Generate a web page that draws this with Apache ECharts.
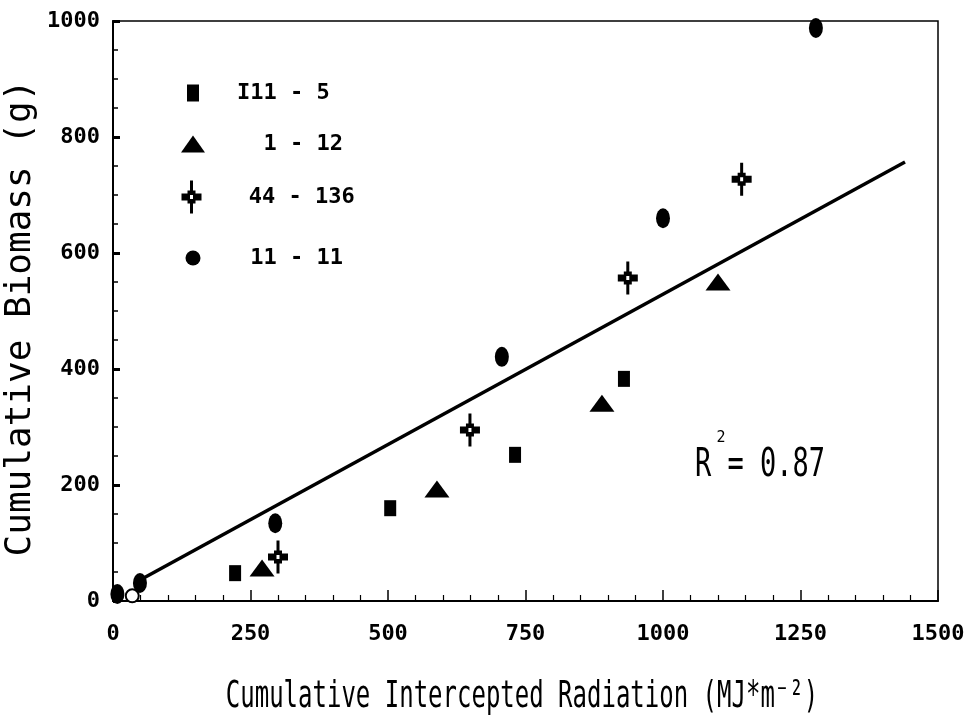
<!DOCTYPE html>
<html>
<head>
<meta charset="utf-8">
<script src="https://cdn.jsdelivr.net/npm/echarts@6/dist/echarts.min.js"></script>
<style>
  html, body { margin: 0; padding: 0; background: #fff; }
  #eChart { width: 975px; height: 724px; }
</style>
</head>
<body>
<div id="eChart"></div>
<script>
// values
const seriesNames = ["I11 - 5", "1 - 12", "44 - 136", "11 - 11"];

const sqX = [222, 504, 731, 929];
const sqY = [48, 160, 252, 383];

const triX = [271, 589, 889, 1100];
const triY = [57, 193, 341, 550];

const crossX = [300, 649, 936, 1143];
const crossY = [76, 295, 557, 727];

const circX = [8, 49, 295, 707, 1000, 1278];
const circY = [12, 31, 134, 421, 660, 988];

const openX = [35];
const openY = [9];

const fitX = [45, 1440];
const fitY = [34, 757];

const xTicks = [0, 250, 500, 750, 1000, 1250, 1500];
const yTicks = [0, 200, 400, 600, 800, 1000];

const mono = "'DejaVu Sans Mono', monospace";
const crossPath =
  "path://M8.5,0L11.5,0L11.5,10L14,10L14,13L20,13L20,20L14,20L14,23L11.5,23L11.5,33L8.5,33L8.5,23L6,23L6,20L0,20L0,13L6,13L6,10L8.5,10Z" +
  "M8.5,14.5L8.5,18.5L11.5,18.5L11.5,14.5Z";

const zip = (xs, ys) => xs.map((x, i) => [x, ys[i]]);

// legend rows: icon size and vertical centre
const legendRows = [
  { name: seriesNames[0], w: 12, h: 17, cy: 92 },
  { name: seriesNames[1], w: 24, h: 17, cy: 143 },
  { name: seriesNames[2], w: 23, h: 33, cy: 197 },
  { name: seriesNames[3], w: 15, h: 20, cy: 257 },
];

const legends = legendRows.map((r) => {
  const left = 193 - r.w / 2;
  const pad = 237 - (left + r.w + 5);
  const txt = { fontFamily: mono, fontWeight: "bold", fontSize: 22, color: "#000", lineHeight: 20 };
  return {
    data: [r.name],
    left: left,
    top: r.cy - Math.max(r.h, 20) / 2,
    itemWidth: r.w,
    itemHeight: r.h,
    padding: 0,
    selectedMode: false,
    formatter: (name) => {
      const parts = name.split(" - ");
      return "{s| }{t|" + parts[0].padStart(3, " ") + " - " + parts[1] + "}";
    },
    textStyle: {
      rich: {
        s: { ...txt, width: pad },
        t: { ...txt },
      },
    },
  };
});

const chart = echarts.init(document.getElementById("eChart"));

const option = {
  animation: false,
  backgroundColor: "#fff",
  grid: {
    left: 113,
    right: 37,
    top: 21,
    bottom: 123,
    show: true,
    borderColor: "#000",
    borderWidth: 1.5,
    backgroundColor: "transparent",
  },
  legend: legends,
  xAxis: {
    type: "value",
    min: xTicks[0],
    max: xTicks[xTicks.length - 1],
    interval: 250,
    axisLine: { show: true, lineStyle: { color: "#000", width: 2 } },
    axisTick: { show: true, inside: true, length: 11, lineStyle: { color: "#000", width: 1.5 } },
    minorTick: { show: true, splitNumber: 5, length: 6, lineStyle: { color: "#000", width: 1.2 } },
    splitLine: { show: false },
    axisLabel: {
      margin: 22,
      fontFamily: mono,
      fontWeight: "bold",
      fontSize: 22,
      color: "#000",
      formatter: (v) => (xTicks.includes(v) ? String(v) : ""),
    },
  },
  yAxis: {
    type: "value",
    min: yTicks[0],
    max: yTicks[yTicks.length - 1],
    interval: 200,
    axisLine: { show: true, lineStyle: { color: "#000", width: 2 } },
    axisTick: { show: true, inside: true, length: 7, lineStyle: { color: "#000", width: 3 } },
    minorTick: { show: true, splitNumber: 4, length: 5, lineStyle: { color: "#000", width: 1.5 } },
    splitLine: { show: false },
    axisLabel: {
      margin: 13,
      fontFamily: mono,
      fontWeight: "bold",
      fontSize: 22,
      color: "#000",
      formatter: (v) => String(v),
    },
  },
  series: [
    {
      name: "fit",
      type: "line",
      data: zip(fitX, fitY),
      symbol: "none",
      lineStyle: { color: "#000", width: 3.5 },
      z: 1,
    },
    {
      name: seriesNames[0],
      type: "scatter",
      data: zip(sqX, sqY),
      symbol: "rect",
      symbolSize: [12, 16],
      itemStyle: { color: "#000", opacity: 1 },
      z: 3,
    },
    {
      name: seriesNames[1],
      type: "scatter",
      data: zip(triX, triY),
      symbol: "triangle",
      symbolSize: [25, 17],
      itemStyle: { color: "#000", opacity: 1 },
      z: 3,
    },
    {
      name: seriesNames[2],
      type: "scatter",
      data: zip(crossX, crossY),
      symbol: crossPath,
      symbolSize: [20, 33],
      itemStyle: { color: "#000", opacity: 1 },
      z: 3,
    },
    {
      name: "open",
      type: "scatter",
      data: zip(openX, openY),
      symbol: "circle",
      symbolSize: 13,
      itemStyle: { color: "#fff", borderColor: "#000", borderWidth: 2, opacity: 1 },
      z: 2,
    },
    {
      name: seriesNames[3],
      type: "scatter",
      data: zip(circX, circY),
      symbol: "circle",
      symbolSize: [14, 20],
      itemStyle: { color: "#000", opacity: 1 },
      z: 3,
    },
  ],
  graphic: [
    {
      // y axis title
      type: "text",
      x: 21,
      y: 318,
      rotation: Math.PI / 2,
      style: {
        text: "Cumulative Biomass (g)",
        font: "36px " + mono,
        fill: "#000",
        textAlign: "center",
        textVerticalAlign: "middle",
      },
    },
    {
      // x axis title
      type: "text",
      x: 522,
      y: 697,
      scaleY: 1.55,
      style: {
        text: "Cumulative Intercepted Radiation (MJ*m\u207B\u00B2)",
        font: "24px " + mono,
        fill: "#000",
        textAlign: "center",
        textVerticalAlign: "middle",
      },
    },
    {
      type: "text",
      x: 695,
      y: 466,
      scaleY: 1.42,
      style: {
        text: "R = 0.87",
        font: "27px " + mono,
        fill: "#000",
        textAlign: "left",
        textVerticalAlign: "middle",
      },
    },
    {
      type: "text",
      x: 721,
      y: 438,
      style: {
        text: "2",
        font: "15px " + mono,
        fill: "#000",
        textAlign: "center",
        textVerticalAlign: "middle",
      },
    },
  ],
};

chart.setOption(option);
</script>
</body>
</html>
